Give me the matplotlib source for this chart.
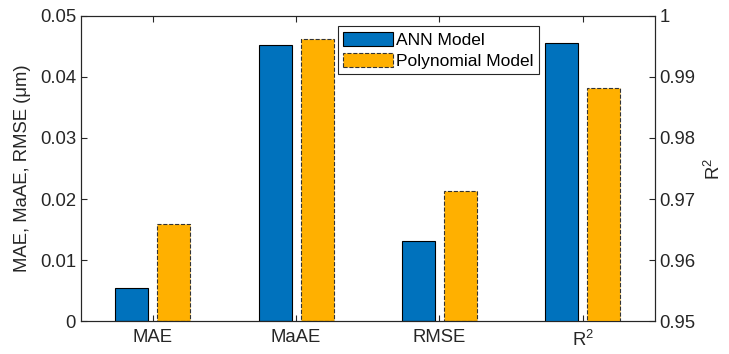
import numpy as np
import matplotlib
matplotlib.use('Agg')
import matplotlib.pyplot as plt
from matplotlib.patches import Patch

plt.rcParams['font.family'] = ['Liberation Sans', 'DejaVu Sans']
plt.rcParams['mathtext.default'] = 'regular'
plt.rcParams['font.size'] = 13.3

categories = ['MAE', 'MaAE', 'RMSE', 'R$^2$']
# errors on left axis (um), R2 on right axis
ann_err = [0.00536, 0.04525, 0.01317]
poly_err = [0.01585, 0.04618, 0.02137]
ann_r2 = 0.99552
poly_r2 = 0.98815

blue = '#0072BD'
orange = '#FFB000'
dark = '#262626'

fig = plt.figure(figsize=(7.29, 3.54), dpi=100)
ax = fig.add_axes([0.111, 0.093, 0.787, 0.862])
ax2 = ax.twinx()

x = np.arange(1, len(categories) + 1)
w = 0.23
off = 0.146

ax.bar(x[:3] - off, ann_err, w, color=blue, edgecolor='black', linewidth=0.8)
ax.bar(x[:3] + off, poly_err, w, color=orange, edgecolor='#333333', linewidth=0.8, linestyle='--')
ax2.bar(x[3] - off, ann_r2, w, color=blue, edgecolor='black', linewidth=0.8)
ax2.bar(x[3] + off, poly_r2, w, color=orange, edgecolor='#333333', linewidth=0.8, linestyle='--')

ax.set_xlim(0.5, 4.5)
ax.set_ylim(0, 0.05)
ax2.set_ylim(0.95, 1.0)

ax.set_xticks(x)
ax.set_xticklabels(categories)
ax.set_yticks([0, 0.01, 0.02, 0.03, 0.04, 0.05])
ax.set_yticklabels(['0', '0.01', '0.02', '0.03', '0.04', '0.05'])
ax2.set_yticks([0.95, 0.96, 0.97, 0.98, 0.99, 1.0])
ax2.set_yticklabels(['0.95', '0.96', '0.97', '0.98', '0.99', '1'])

ax.set_ylabel('MAE, MaAE, RMSE (\u03bcm)', color=dark, labelpad=6)
ax2.set_ylabel('R$^2$', color=dark, labelpad=6)

ax.tick_params(axis='x', direction='in', top=True, length=4, colors=dark, pad=6)
ax.tick_params(axis='y', direction='in', length=4, colors=dark)
ax2.tick_params(axis='y', direction='in', length=4, colors=dark)
for a in (ax, ax2):
    for s in a.spines.values():
        s.set_color(dark)
        s.set_linewidth(0.8)

handles = [Patch(facecolor=blue, edgecolor='black', linewidth=0.8, label='ANN Model'),
           Patch(facecolor=orange, edgecolor='#333333', linewidth=0.8, linestyle='--', label='Polynomial Model')]
leg = ax.legend(handles=handles, loc='upper left', bbox_to_anchor=(0.448, 0.966),
                fancybox=False, framealpha=1, edgecolor=dark, handlelength=2.85,
                handleheight=0.9, handletextpad=0.2, borderpad=0.3, labelspacing=0.3,
                borderaxespad=0, fontsize=12.5)
leg.get_frame().set_linewidth(0.8)

fig.savefig('out.png', dpi=100)
